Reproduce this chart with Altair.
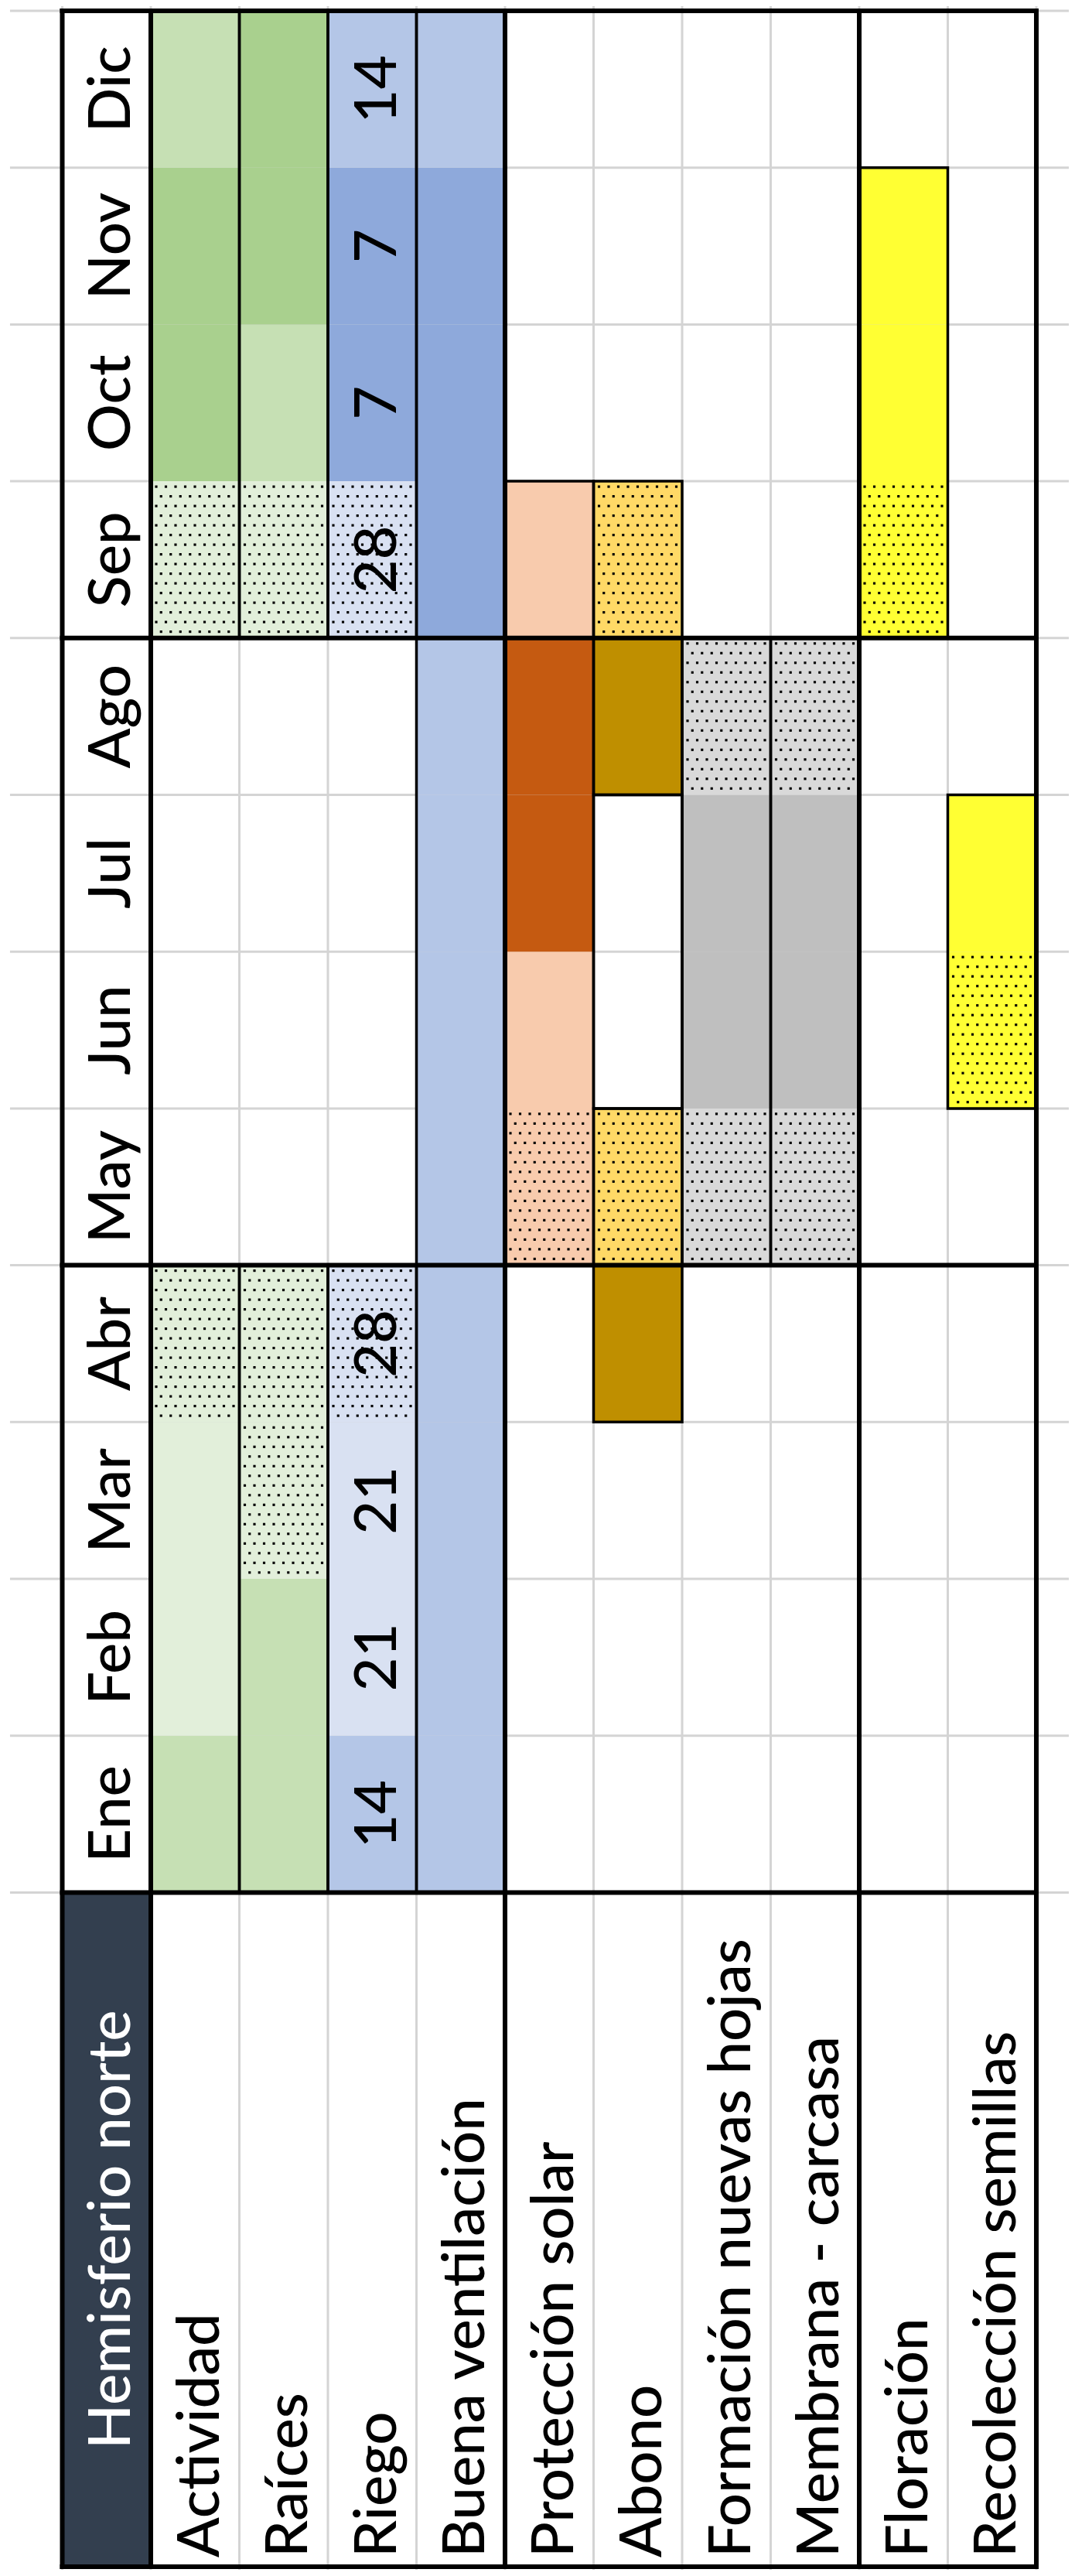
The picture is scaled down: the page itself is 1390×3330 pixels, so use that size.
import altair as alt
import pandas as pd

# ---------------- data ----------------
months = ["Ene", "Feb", "Mar", "Abr", "May", "Jun", "Jul", "Ago", "Sep", "Oct", "Nov", "Dic"]
activities = ["Actividad", "Raíces", "Riego", "Buena ventilación", "Protección solar",
              "Abono", "Formación nuevas hojas", "Membrana - carcasa", "Floración",
              "Recolección semillas"]
title_text = "Hemisferio norte"

# fill key per month (Ene..Dic); "" = no fill; trailing "*" = dotted pattern
fill_actividad   = ["g2", "g3", "g3", "g3*", "", "", "", "", "g3*", "g1", "g1", "g2"]
fill_raices      = ["g2", "g2", "g3*", "g3*", "", "", "", "", "g3*", "g2", "g1", "g1"]
fill_riego       = ["b2", "b3", "b3", "b3*", "", "", "", "", "b3*", "b1", "b1", "b2"]
fill_ventilacion = ["b2", "b2", "b2", "b2", "b2", "b2", "b2", "b2", "b1", "b1", "b1", "b2"]
fill_proteccion  = ["", "", "", "", "o2*", "o2", "o1", "o1", "o2", "", "", ""]
fill_abono       = ["", "", "", "y1", "y2*", "", "", "y1", "y2*", "", "", ""]
fill_formacion   = ["", "", "", "", "s2*", "s1", "s1", "s2*", "", "", "", ""]
fill_membrana    = ["", "", "", "", "s2*", "s1", "s1", "s2*", "", "", "", ""]
fill_floracion   = ["", "", "", "", "", "", "", "", "Y*", "Y", "Y", ""]
fill_recoleccion = ["", "", "", "", "", "Y*", "Y", "", "", "", "", ""]

riego_dias = [14, 21, 21, 28, None, None, None, None, 28, 7, 7, 14]

# cell blocks with a thin black border: activity index, first month, last month
block_act   = [0, 0, 1, 1, 2, 2, 3, 4, 5, 5, 5, 5, 5, 6, 7, 8, 9]
block_start = [0, 8, 0, 8, 0, 8, 0, 4, 3, 4, 5, 7, 8, 4, 4, 8, 5]
block_end   = [3, 11, 3, 11, 3, 11, 11, 8, 3, 4, 6, 7, 8, 7, 7, 10, 6]

# ---------------- styles ----------------
palette = {"g1": "#A9D08E", "g2": "#C6E0B4", "g3": "#E2EFDA",
           "b1": "#8EA9DB", "b2": "#B4C6E7", "b3": "#D9E1F2",
           "o1": "#C55A11", "o2": "#F8CBAD",
           "y1": "#BF8F00", "y2": "#FFD966",
           "s1": "#BFBFBF", "s2": "#D9D9D9",
           "Y": "#FFFF33"}
HEADER = "#333F4F"
GRID = "#D4D4D4"
FONT = "Lato"
FS = 76
FW = 500

W, H = 1374, 3314
COL_PX, ROW_PX = 114.5, 202.7
X0_PX, Y0_PX = 72.5, 6.0
xmin, xmax = -X0_PX / COL_PX, (W - X0_PX) / COL_PX
ymin, ymax = -Y0_PX / ROW_PX, (H - Y0_PX) / ROW_PX
u_hb = (H - 4 - Y0_PX) / ROW_PX          # bottom edge of the header row
NCOL = len(activities) + 1
NROW = len(months)

xs = alt.Scale(domain=[xmin, xmax], nice=False, zero=False)
ys = alt.Scale(domain=[ymin, ymax], nice=False, zero=False, reverse=True)

def X(f):
    return alt.X(f, type="quantitative", scale=xs, axis=None)

def Y(f):
    return alt.Y(f, type="quantitative", scale=ys, axis=None)

def urow(m):
    return NROW - 1 - m   # Dic on top, Ene at the bottom

fills = [fill_actividad, fill_raices, fill_riego, fill_ventilacion, fill_proteccion,
         fill_abono, fill_formacion, fill_membrana, fill_floracion, fill_recoleccion]

# ---------------- tables ----------------
cells, dots = [], []
for a, row in enumerate(fills):
    for m, key in enumerate(row):
        if not key:
            continue
        k = key.rstrip("*")
        c0, r0 = a + 1, urow(m)
        cells.append({"x": c0, "x2": c0 + 1, "y": r0, "y2": r0 + 1, "key": k})
        if key.endswith("*"):
            dxu, dyu = 12.5 / COL_PX, 12.5 / ROW_PX
            j = 0
            yy = r0 + 7 / ROW_PX
            while yy < r0 + 1 - 4 / ROW_PX:
                xx = c0 + 7 / COL_PX + (j % 2) * dxu / 2
                while xx < c0 + 1 - 4 / COL_PX:
                    dots.append({"x": xx, "y": yy})
                    xx += dxu
                yy += dyu
                j += 1
cells_df = pd.DataFrame(cells)
dots_df = pd.DataFrame(dots)

blocks_df = pd.DataFrame({
    "x": [a + 1 for a in block_act],
    "x2": [a + 2 for a in block_act],
    "y": [urow(e) for e in block_end],
    "y2": [urow(s) + 1 for s in block_start],
})

hgrid = pd.DataFrame({"y": list(range(NROW + 1)), "x": -0.59, "x2": xmax})
vgrid = pd.DataFrame({"x": list(range(NCOL + 1)), "y": ymin, "y2": ymax})

thick_v = pd.DataFrame({"x": [0, 1, 5, 9, NCOL], "y": 0.0, "y2": u_hb})
thick_h = pd.DataFrame({"y": [0, 4, 8, NROW, u_hb], "x": 0.0, "x2": float(NCOL)})

header_df = pd.DataFrame({"x": [0], "x2": [1], "y": [NROW], "y2": [u_hb]})

off = 1 - 27 / COL_PX
month_df = pd.DataFrame({"t": months, "x": off, "y": [urow(m) + 0.5 for m in range(NROW)]})
riego_df = pd.DataFrame({"t": [str(v) for v in riego_dias if v is not None],
                         "x": 3 + off,
                         "y": [urow(m) + 0.5 for m, v in enumerate(riego_dias) if v is not None]})
act_df = pd.DataFrame({"t": activities, "x": [a + 1 + off for a in range(len(activities))],
                       "y": u_hb - 12 / ROW_PX})
title_df = pd.DataFrame({"t": [title_text], "x": [off], "y": [(NROW + u_hb) / 2]})

# ---------------- layers ----------------
grid_h = alt.Chart(hgrid).mark_rule(color=GRID, strokeWidth=3).encode(x=X("x"), x2="x2", y=Y("y"))
grid_v = alt.Chart(vgrid).mark_rule(color=GRID, strokeWidth=3).encode(x=X("x"), y=Y("y"), y2="y2")

cell_layer = alt.Chart(cells_df).mark_rect(strokeWidth=0).encode(
    x=X("x"), x2="x2", y=Y("y"), y2="y2",
    color=alt.Color("key:N", scale=alt.Scale(domain=list(palette.keys()),
                                             range=list(palette.values())), legend=None))
header_layer = alt.Chart(header_df).mark_rect(color=HEADER, strokeWidth=0).encode(
    x=X("x"), x2="x2", y=Y("y"), y2="y2")

dot_layer = alt.Chart(dots_df).mark_square(size=10, color="black", opacity=1, filled=True).encode(
    x=X("x"), y=Y("y"))

block_layer = alt.Chart(blocks_df).mark_rect(filled=False, stroke="black", strokeWidth=3.5).encode(
    x=X("x"), x2="x2", y=Y("y"), y2="y2")

tv = alt.Chart(thick_v).mark_rule(color="black", strokeWidth=6, strokeCap="square").encode(
    x=X("x"), y=Y("y"), y2="y2")
th = alt.Chart(thick_h).mark_rule(color="black", strokeWidth=6, strokeCap="square").encode(
    y=Y("y"), x=X("x"), x2="x2")

txt = dict(angle=270, font=FONT, fontSize=FS, fontWeight=FW, baseline="alphabetic")
month_layer = alt.Chart(month_df).mark_text(align="center", color="black", **txt).encode(
    x=X("x"), y=Y("y"), text="t:N")
riego_layer = alt.Chart(riego_df).mark_text(align="center", color="black", **txt).encode(
    x=X("x"), y=Y("y"), text="t:N")
act_layer = alt.Chart(act_df).mark_text(align="left", color="black", **txt).encode(
    x=X("x"), y=Y("y"), text="t:N")
title_layer = alt.Chart(title_df).mark_text(align="center", color="white", **txt).encode(
    x=X("x"), y=Y("y"), text="t:N")

chart = alt.layer(
    grid_h, grid_v, cell_layer, header_layer, dot_layer, block_layer, tv, th,
    month_layer, riego_layer, act_layer, title_layer
).properties(
    width=W, height=H, padding=0, background="white",
    autosize=alt.AutoSizeParams(type="none")
).configure_view(strokeWidth=0)

chart.save("out.html", embed_options={"renderer": "svg", "actions": False})
